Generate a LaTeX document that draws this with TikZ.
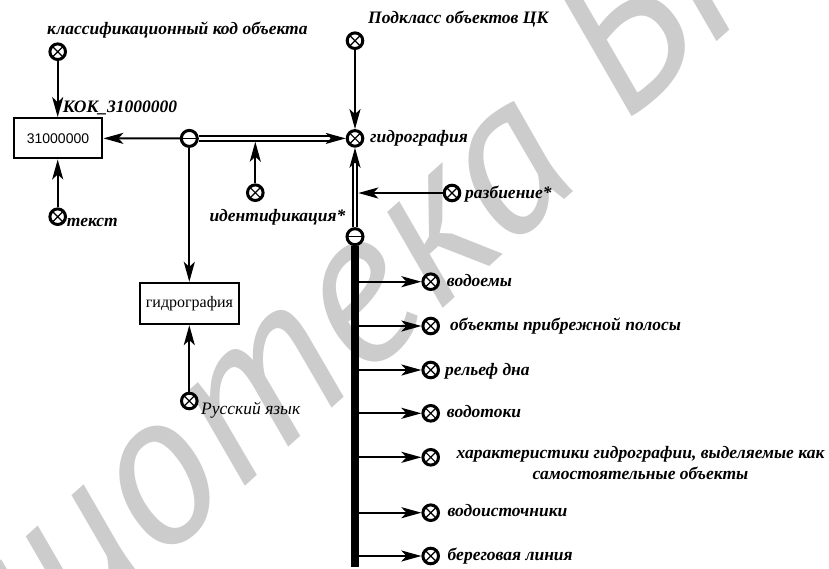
\documentclass[tikz,border=0pt]{standalone}
\usepackage{fontspec}
\setmainfont{Liberation Serif}
\newfontfamily\boxsans{Liberation Sans}
\newfontfamily\wmfont{PT Sans}
\usetikzlibrary{arrows.meta,calc}
\definecolor{wmgray}{RGB}{204,204,204}
\begin{document}
\begin{tikzpicture}[x=1pt,y=-1pt,
  lbl/.style={font=\fontsize{17.5}{21}\selectfont\bfseries\itshape, inner sep=0pt},
  lblr/.style={font=\fontsize{17.5}{21}\selectfont\itshape, inner sep=0pt},
  wm/.style={font=\wmfont\itshape\fontsize{217}{217}\selectfont, text=wmgray, inner sep=0pt},
  ox/.style={circle, draw, fill=white, line width=3pt, minimum size=15.6pt, inner sep=0pt,
    path picture={\draw[line width=1.2pt]
      (path picture bounding box.north west) -- (path picture bounding box.south east)
      (path picture bounding box.north east) -- (path picture bounding box.south west);}},
  jn/.style={circle, draw, fill=white, line width=3pt, minimum size=16pt, inner sep=0pt,
    path picture={\draw[line width=1.4pt]
      (path picture bounding box.west) -- (path picture bounding box.east);}},
  box/.style={draw, line width=2.3pt, inner sep=0pt},
  arr/.style={line width=2.1pt, -{Stealth[length=20pt,width=11pt,inset=5pt]}},
  dbl/.style={double=white, double distance=2.4pt, line width=2.1pt},
  thick bar/.style={line width=7.5pt}
]
\useasboundingbox (0,0) rectangle (829,568);
% watermark
\begin{scope}
\clip (0,0) rectangle (829,568);
\node[wm, rotate=42, anchor=base east] (wma) at (586.6,179) {Библиотека};
\node[wm, rotate=42, anchor=base west] (wmb) at (626.3,124.1) {БГУИР};
\end{scope}

% boxes
\node[box, minimum width=88.5pt, minimum height=40pt] (b1) at (58,138.3)
  {\boxsans\fontsize{14}{16}\selectfont 31000000};
\node[box, minimum width=99pt, minimum height=41pt] (b2) at (189.5,303.5)
  {\fontsize{16}{18}\selectfont гидрография};

% circles
\node[ox] (c1) at (57.7,51.7) {};
\node[ox] (c2) at (57.7,216.7) {};
\node[jn] (j1) at (189.3,138.4) {};
\node[ox] (g) at (355,138.4) {};
\node[ox] (t) at (355,40.7) {};
\node[ox] (id) at (255.3,192.7) {};
\node[ox] (raz) at (452,193) {};
\node[jn] (j2) at (355,236.7) {};
\node[ox] (ru) at (189.3,401) {};
\node[ox] (k1) at (430.7,281.7) {};
\node[ox] (k2) at (430.7,326) {};
\node[ox] (k3) at (430.7,370) {};
\node[ox] (k4) at (430.7,413.3) {};
\node[ox] (k5) at (430.7,457.3) {};
\node[ox] (k6) at (430.7,512.7) {};
\node[ox] (k7) at (430.7,556) {};
\coordinate (tb) at (355,567);

% connectors
\draw[arr] (c1) -- (c1 |- b1.north);
\draw[arr] (c2) -- (c2 |- b1.south);
\draw[arr] (j1) -- (b1);
\draw[arr] (j1) -- (j1 |- b2.north);
\draw[arr] (ru) -- (ru |- b2.south);
\draw[arr] (t) -- (g);
% double arrow j1 -> g
\draw[dbl] (j1.east) -- ($(g.west)+(-14,0)$);
\draw[arr] ($(g.west)+(-15,0)$) -- (g.west);
% double arrow j2 -> g
\draw[dbl] (j2.north) -- ($(g.south)+(0,14)$);
\draw[arr] ($(g.south)+(0,15)$) -- (g.south);
\draw[arr] (id) -- ($(id |- j1)+(0,3.3)$);
\draw[arr] (raz) -- ($(raz -| j2)+(3.3,0)$);
% thick bar
\draw[thick bar] (j2.south) -- (tb);
\foreach \k in {k1,k2,k3,k4,k5,k6,k7}{
  \draw[arr] (j2 |- \k) -- (\k);
}

% labels
\node[lbl, anchor=base west] (l1) at (47,34) {классификационный код объекта};
\node[lbl, anchor=base west] (l2) at (62.7,112.7) {КОК\_31000000};
\node[lbl, anchor=base west] (l3) at (66.7,226.7) {текст};
\node[lbl, anchor=base west] (l4) at (368,23.3) {Подкласс объектов ЦК};
\node[lbl, anchor=base west] (l5) at (370,142) {гидрография};
\node[lbl, anchor=base west] (l6) at (209.3,221.7) {идентификация*};
\node[lbl, anchor=base west] (l7) at (465,198.3) {разбиение*};
\node[lblr, anchor=base west] (l8) at (201,414) {Русский язык};
\node[lbl, anchor=base west] (m1) at (446.7,286.7) {водоемы};
\node[lbl, anchor=base west] (m2) at (450,330.7) {объекты прибрежной полосы};
\node[lbl, anchor=base west] (m3) at (445,375) {рельеф дна};
\node[lbl, anchor=base west] (m4) at (446.7,417.3) {водотоки};
\node[lbl, anchor=base, align=center] (m5) at (640.5,479.3) {характеристики гидрографии, выделяемые как\\самостоятельные объекты};
\node[lbl, anchor=base west] (m6) at (447.3,516.7) {водоисточники};
\node[lbl, anchor=base west] (m7) at (447.3,560) {береговая линия};
\end{tikzpicture}
\end{document}
